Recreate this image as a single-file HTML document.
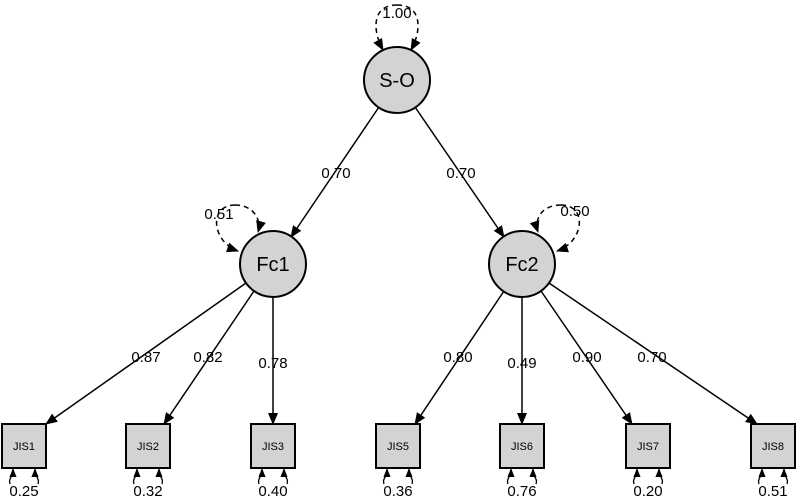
<!DOCTYPE html>
<html><head><meta charset="utf-8"><style>
html,body{margin:0;padding:0;background:#fff;}
svg{display:block;font-family:"Liberation Sans",Arial,sans-serif;}
</style></head><body>
<svg width="797" height="500" viewBox="0 0 797 500" xmlns="http://www.w3.org/2000/svg">
<defs>
<marker id="a" viewBox="0 0 12 10" refX="11" refY="5" markerWidth="12" markerHeight="10" markerUnits="userSpaceOnUse" orient="auto">
<path d="M0,0 L12,5 L0,10 z" fill="#000"/></marker>
<marker id="s" viewBox="0 0 10 8" refX="9" refY="4" markerWidth="9" markerHeight="8" markerUnits="userSpaceOnUse" orient="auto">
<path d="M0,0 L10,4 L0,8 z" fill="#000"/></marker>
</defs>
<g stroke="#000" stroke-width="1.5" fill="none">
<line x1="379" y1="107" x2="291" y2="237" marker-end="url(#a)"/>
<line x1="415" y1="107" x2="504" y2="237" marker-end="url(#a)"/>
<line x1="246" y1="283" x2="46" y2="424" marker-end="url(#a)"/>
<line x1="254" y1="291" x2="164" y2="424" marker-end="url(#a)"/>
<line x1="273" y1="297" x2="273" y2="424" marker-end="url(#a)"/>
<line x1="504" y1="291" x2="415" y2="424" marker-end="url(#a)"/>
<line x1="522" y1="297" x2="522" y2="424" marker-end="url(#a)"/>
<line x1="541" y1="291" x2="632" y2="424" marker-end="url(#a)"/>
<line x1="549" y1="283" x2="757" y2="424" marker-end="url(#a)"/>
</g>
<g stroke="#000" stroke-width="1.5" fill="none" stroke-dasharray="5,4">
<path d="M397,5 C372,5 372,30 383,50" marker-end="url(#a)"/>
<path d="M397,5 C422,5 422,30 411,50" marker-end="url(#a)"/>
<path d="M235,205 C208,205 212,242 238,251" marker-end="url(#a)"/>
<path d="M235,205 C252,205 262,218 258,232" marker-end="url(#a)"/>
<path d="M561,205 C541,205 534,220 538,232" marker-end="url(#a)"/>
<path d="M561,205 C588,205 584,242 557,251" marker-end="url(#a)"/>
</g>
<g stroke="#000" stroke-width="2" fill="#d3d3d3">
<circle cx="397" cy="80" r="33"/>
<circle cx="273" cy="264" r="33"/>
<circle cx="522" cy="264" r="33"/>
<rect x="2" y="424" width="44" height="44"/>
<rect x="126" y="424" width="44" height="44"/>
<rect x="251" y="424" width="44" height="44"/>
<rect x="376" y="424" width="44" height="44"/>
<rect x="500" y="424" width="44" height="44"/>
<rect x="626" y="424" width="44" height="44"/>
<rect x="751" y="424" width="44" height="44"/>
</g>
<g stroke="#000" stroke-width="1.3" fill="none">
<path d="M10,484 C8,478 13,478 13,469" marker-end="url(#s)"/><path d="M38,484 C40,478 35,478 35,469" marker-end="url(#s)"/>
<path d="M134,484 C132,478 137,478 137,469" marker-end="url(#s)"/><path d="M162,484 C164,478 159,478 159,469" marker-end="url(#s)"/>
<path d="M259,484 C257,478 262,478 262,469" marker-end="url(#s)"/><path d="M287,484 C289,478 284,478 284,469" marker-end="url(#s)"/>
<path d="M384,484 C382,478 387,478 387,469" marker-end="url(#s)"/><path d="M412,484 C414,478 409,478 409,469" marker-end="url(#s)"/>
<path d="M508,484 C506,478 511,478 511,469" marker-end="url(#s)"/><path d="M536,484 C538,478 533,478 533,469" marker-end="url(#s)"/>
<path d="M634,484 C632,478 637,478 637,469" marker-end="url(#s)"/><path d="M662,484 C664,478 659,478 659,469" marker-end="url(#s)"/>
<path d="M759,484 C757,478 762,478 762,469" marker-end="url(#s)"/><path d="M787,484 C789,478 784,478 784,469" marker-end="url(#s)"/>
</g>
<g font-size="20" text-anchor="middle" fill="#000">
<text x="397" y="87">S-O</text>
<text x="273" y="271">Fc1</text>
<text x="522" y="271">Fc2</text>
</g>
<g font-size="11" text-anchor="middle" fill="#000">
<text x="24" y="450">JIS1</text><text x="148" y="450">JIS2</text><text x="273" y="450">JIS3</text>
<text x="398" y="450">JIS5</text><text x="522" y="450">JIS6</text><text x="648" y="450">JIS7</text><text x="773" y="450">JIS8</text>
</g>
<g font-size="15" text-anchor="middle" fill="#000">
<text x="397" y="18">1.00</text>
<text x="336" y="178">0.70</text>
<text x="461" y="178">0.70</text>
<text x="219" y="219">0.51</text>
<text x="575" y="216">0.50</text>
<text x="146" y="362">0.87</text>
<text x="208" y="362">0.82</text>
<text x="273" y="368">0.78</text>
<text x="458" y="362">0.80</text>
<text x="522" y="368">0.49</text>
<text x="587" y="362">0.90</text>
<text x="652" y="362">0.70</text>
<text x="24" y="496">0.25</text><text x="148" y="496">0.32</text><text x="273" y="496">0.40</text>
<text x="398" y="496">0.36</text><text x="522" y="496">0.76</text><text x="648" y="496">0.20</text><text x="773" y="496">0.51</text>
</g>
</svg>
</body></html>
